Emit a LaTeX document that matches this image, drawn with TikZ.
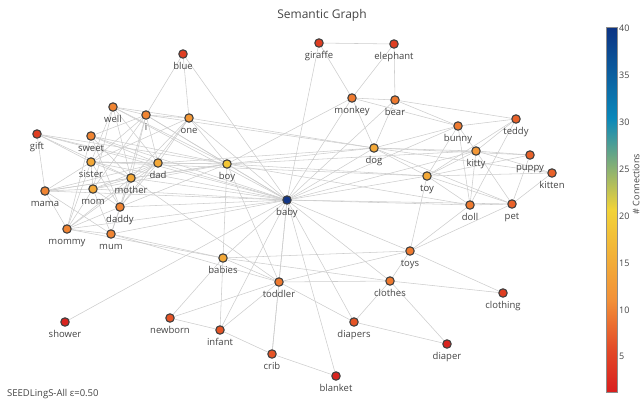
\documentclass[tikz,border=0pt]{standalone}
\usepackage{fontspec}
\setmainfont{Open Sans}
\usetikzlibrary{backgrounds}
\definecolor{cbaby}{RGB}{18,54,135}
\definecolor{dnineteen}{RGB}{243,198,52}
\definecolor{dfifteen}{RGB}{243,168,55}
\definecolor{dthirteen}{RGB}{243,152,55}
\definecolor{deleven}{RGB}{240,132,50}
\definecolor{dten}{RGB}{239,122,47}
\definecolor{dseven}{RGB}{233,98,42}
\definecolor{dsix}{RGB}{229,84,38}
\definecolor{dfour}{RGB}{223,62,34}
\definecolor{dtwo}{RGB}{217,36,31}
\definecolor{txt}{RGB}{68,68,68}
\definecolor{edgec}{RGB}{205,205,205}
\definecolor{pred}{RGB}{217,30,30}
\definecolor{porange}{RGB}{242,143,56}
\definecolor{pyellow}{RGB}{242,211,56}
\definecolor{pcyan}{RGB}{10,136,186}
\definecolor{pblue}{RGB}{12,51,131}
\pgfdeclareverticalshading{portland}{100bp}{color(0bp)=(pred); color(25bp)=(pred); color(31bp)=(pred!60!porange); color(37.5bp)=(porange); color(50bp)=(pyellow); color(62.5bp)=(pcyan); color(75bp)=(pblue); color(100bp)=(pblue)}
\tikzset{
  vtx/.style={circle, draw=black!75, line width=1.1pt, minimum size=8.4pt, inner sep=0pt},
  lbl/.style={font=\fontsize{9.5}{11}\selectfont, text=txt, inner sep=0pt, anchor=base},
  lnk/.style={draw=edgec, line width=0.55pt},
  tick/.style={font=\fontsize{9}{10}\selectfont, text=txt, anchor=west, inner sep=0pt}
}
\newcommand{\gvert}[5]{%
  \node[vtx, fill=#4] (#1) at (#2,#3) {};
  \node[lbl] (#1-t) at (#2,#3+15) {#5};}
\newcommand{\glinks}[2]{\foreach \tgt in {#2} {\draw[lnk] (#1) -- (\tgt);}}
\begin{document}
\begin{tikzpicture}[x=1pt,y=-1pt]
\useasboundingbox (0,0) rectangle (641,400);
\node[font=\fontsize{12}{14}\selectfont, text=txt] (title) at (322,15) {Semantic Graph};
\node[font=\fontsize{9.5}{11}\selectfont, text=txt, anchor=base west, inner sep=0pt] (note) at (7,396) {SEEDLingS-All ε=0.50};
% vertices
\gvert{blue}{183}{54}{dfour}{blue}
\gvert{giraffe}{319}{43}{dfour}{giraffe}
\gvert{elephant}{394}{44}{dfour}{elephant}
\gvert{well}{113}{107}{deleven}{well}
\gvert{i}{146}{115}{deleven}{i}
\gvert{one}{189}{118}{dthirteen}{one}
\gvert{gift}{37}{134}{dfour}{gift}
\gvert{sweet}{91}{136}{deleven}{sweet}
\gvert{monkey}{352}{98}{dten}{monkey}
\gvert{bear}{395}{100}{dten}{bear}
\gvert{teddy}{516}{119}{dseven}{teddy}
\gvert{bunny}{458}{126}{dten}{bunny}
\gvert{dog}{374}{148}{dfifteen}{dog}
\gvert{kitty}{476}{151}{dthirteen}{kitty}
\gvert{puppy}{530}{155}{dseven}{puppy}
\gvert{kitten}{552}{173}{dseven}{kitten}
\gvert{toy}{427}{176}{dfifteen}{toy}
\gvert{sister}{91}{162}{dfifteen}{sister}
\gvert{dad}{158}{163}{dfifteen}{dad}
\gvert{boy}{227}{164}{dnineteen}{boy}
\gvert{mother}{131}{178}{dfifteen}{mother}
\gvert{mama}{45}{191}{deleven}{mama}
\gvert{mom}{93}{189}{dfifteen}{mom}
\gvert{daddy}{120}{207}{deleven}{daddy}
\gvert{mommy}{67}{229}{deleven}{mommy}
\gvert{mum}{111}{234}{deleven}{mum}
\gvert{baby}{287}{200}{cbaby}{baby}
\gvert{doll}{470}{205}{dten}{doll}
\gvert{pet}{512}{204}{dseven}{pet}
\gvert{toys}{410}{251}{dten}{toys}
\gvert{babies}{223}{258}{dfifteen}{babies}
\gvert{toddler}{279}{282}{dten}{toddler}
\gvert{clothes}{390}{281}{dten}{clothes}
\gvert{clothing}{503}{293}{dfour}{clothing}
\gvert{shower}{65}{322}{dtwo}{shower}
\gvert{newborn}{170}{318}{dsix}{newborn}
\gvert{infant}{220}{330}{dsix}{infant}
\gvert{diapers}{354}{322}{dsix}{diapers}
\gvert{diaper}{447}{344}{dtwo}{diaper}
\gvert{crib}{272}{354}{dsix}{crib}
\gvert{blanket}{336}{376}{dtwo}{blanket}
% edges
\begin{pgfonlayer}{background}
\glinks{blue}{i,one,baby}
\glinks{giraffe}{elephant,monkey,baby}
\glinks{elephant}{monkey,bear}
\glinks{well}{i,one,boy,dad,mother,sister,baby,mom}
\glinks{i}{one,boy,dad,sister,mother,baby,daddy,sweet,mom,dog}
\glinks{one}{boy,baby,dad,sister,mother,dog,daddy}
\glinks{gift}{boy,dad,sister,mama,baby,mother}
\glinks{sweet}{boy,mother,dad,mommy,baby,daddy}
\glinks{sister}{dad,boy,mother,mom,mommy,baby,daddy,mama,toy}
\glinks{dad}{boy,mother,baby,mama,mom,daddy,mommy,dog}
\glinks{mother}{boy,baby,mama,mom,mum,mommy,daddy,toddler}
\glinks{mama}{mom,mommy,boy,baby,mum}
\glinks{mom}{boy,baby,mommy,daddy,mum}
\glinks{daddy}{boy,baby,mommy,mum}
\glinks{mommy}{mum,baby,babies}
\glinks{mum}{baby,babies,toddler}
\glinks{boy}{baby,babies,toddler,dog,toy,kitty,doll,monkey}
\glinks{monkey}{bear,dog,bunny,baby}
\glinks{bear}{teddy,bunny,dog,baby}
\glinks{bunny}{teddy,kitty,doll,toy,dog,baby}
\glinks{teddy}{kitty,doll,toy}
\glinks{dog}{kitty,puppy,toy,pet,baby,kitten}
\glinks{kitty}{puppy,doll,pet,toy,kitten,baby}
\glinks{puppy}{pet,toy}
\glinks{kitten}{pet,toy}
\glinks{toy}{doll,pet,toys,baby}
\glinks{doll}{pet,baby,toys}
\glinks{pet}{toys,baby}
\glinks{toys}{baby,clothes,clothing,babies,toddler}
\glinks{clothes}{baby,diapers,diaper,clothing,babies,toddler}
\glinks{diapers}{diaper,baby,toddler}
\glinks{babies}{baby,toddler,newborn,infant}
\glinks{toddler}{baby,newborn,infant,crib}
\glinks{newborn}{infant}
\glinks{infant}{crib,baby}
\glinks{crib}{blanket,baby}
\glinks{blanket}{baby}
\glinks{shower}{baby}
\end{pgfonlayer}
% colour bar
\shade[shading=portland] (606,27) rectangle (617,392);
\draw[black!45, line width=0.5pt] (606,27) rectangle (617,392);
\node[tick] (t40) at (619,28) {40};
\node[tick] (t35) at (619,75) {35};
\node[tick] (t30) at (619,122) {30};
\node[tick] (t25) at (619,169) {25};
\node[tick] (t20) at (619,216) {20};
\node[tick] (t15) at (619,263) {15};
\node[tick] (t10) at (619,310) {10};
\node[tick] (t5) at (619,356) {5};
\node[font=\fontsize{9}{10}\selectfont, text=txt, rotate=90] (cbt) at (636,184) {\# Connections};
\end{tikzpicture}
\end{document}
